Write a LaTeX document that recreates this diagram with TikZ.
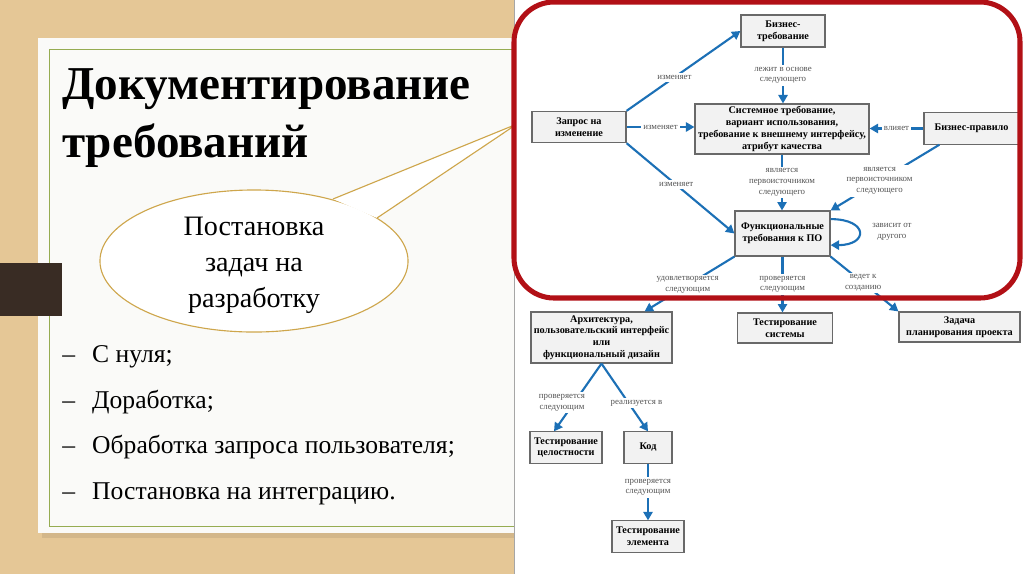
\documentclass[tikz,border=0pt]{standalone}
\usepackage{fontspec}
\setmainfont{Liberation Serif}
\usetikzlibrary{arrows.meta,positioning}

\definecolor{woodtan}{RGB}{229,199,150}
\definecolor{paperwhite}{RGB}{250,250,248}
\definecolor{papergreen}{RGB}{150,172,82}
\definecolor{barbrown}{RGB}{57,44,36}
\definecolor{bubbleline}{RGB}{206,166,76}
\definecolor{framered}{RGB}{178,16,22}
\definecolor{flowblue}{RGB}{28,112,182}
\definecolor{boxfill}{RGB}{242,242,242}
\definecolor{boxline}{RGB}{105,105,105}
\definecolor{notegray}{RGB}{85,85,85}

\begin{document}
\begin{tikzpicture}[x=0.025cm, y=-0.025cm,
  box/.style={draw=boxline, fill=boxfill, line width=0.8pt, align=center,
    inner sep=1pt, font=\bfseries\fontsize{7.25}{8.4}\selectfont},
  flow/.style={draw=flowblue, line width=1.5pt, -{Triangle[length=6pt,width=6.5pt]}},
  note/.style={fill=white, text=notegray, align=center, inner sep=1.5pt,
    font=\fontsize{6.3}{7.6}\selectfont},
  heading/.style={anchor=base west, inner sep=0pt, font=\bfseries\fontsize{33.5}{38}\selectfont},
  item/.style={anchor=base west, inner sep=0pt, font=\fontsize{18.2}{20}\selectfont},
]
\useasboundingbox (0,0) rectangle (1024,574);

% BACKGROUND
\fill[woodtan] (0,0) rectangle (1024,574);
\fill[black, opacity=0.08] (42,44) rectangle (514,538);
\fill[paperwhite] (38,38) rectangle (514,533);
\draw[papergreen, line width=0.7pt] (49,49) rectangle (530,526);
\fill[barbrown] (0,263) rectangle (62,316);

% TITLE
\node[heading] (title1) at (62,99) {Документирование};
\node[heading] (title2) at (62,157) {требований};

% CALLOUT
\draw[bubbleline, fill=white, line width=0.8pt] (254,261) ellipse [x radius=3.85cm, y radius=1.775cm];
\fill[white] (333,199) -- (517,124) -- (377,218) -- cycle;
\draw[bubbleline, line width=0.8pt] (333,199) -- (517,124) -- (377,218);
\node[align=center, font=\fontsize{20}{25.5}\selectfont] (bubble) at (254,265)
  {Постановка\\задач на\\разработку};

% LIST
\node[item] (b1) at (62,362) {\makebox[21.3pt][l]{–}С нуля;};
\node[item] (b2) at (62,408) {\makebox[21.3pt][l]{–}Доработка;};
\node[item] (b3) at (62,453) {\makebox[21.3pt][l]{–}Обработка запроса пользователя;};
\node[item] (b4) at (62,499) {\makebox[21.3pt][l]{–}Постановка на интеграцию.};

% DIAGRAM PANEL
\fill[white] (514,0) rectangle (1024,574);
\draw[black!35, line width=0.4pt] (514,0) -- (514,574);

% BOXES
\node[box, minimum width=2.1cm, minimum height=0.8cm] (bt) at (783,31) {Бизнес-\\требование};
\node[box, minimum width=2.35cm, minimum height=0.78cm] (req) at (579,127) {Запрос на\\изменение};
\node[box, minimum width=4.35cm, minimum height=1.25cm] (sys) at (782,129)
  {Системное требование,\\вариант использования,\\требование к внешнему интерфейсу,\\атрибут качества};
\node[box, minimum width=2.375cm, minimum height=0.78cm] (rule) at (971.5,128.5) {Бизнес-правило};
\node[box, minimum width=2.375cm, minimum height=1.125cm] (func) at (782.5,233.5)
  {Функциональные\\требования к ПО};
\node[box, minimum width=3.525cm, minimum height=1.275cm] (arch) at (601.5,337.5)
  {Архитектура,\\пользовательский интерфейс\\или\\функциональный дизайн};
\node[box, minimum width=2.375cm, minimum height=0.75cm] (systest) at (785,328) {Тестирование\\системы};
\node[box, minimum width=3.025cm, minimum height=0.75cm] (task) at (959.5,327)
  {Задача\\планирования проекта};
\node[box, minimum width=1.8cm, minimum height=0.78cm] (integ) at (566,447.5) {Тестирование\\целостности};
\node[box, minimum width=1.2cm, minimum height=0.78cm] (code) at (648,447.5) {Код};
\node[box, minimum width=1.8cm, minimum height=0.78cm] (unit) at (648,536.5) {Тестирование\\элемента};

% ARROWS
\draw[flow] (req.north east) -- (bt.west) node[note, pos=0.42] {изменяет};
\draw[flow] (bt.south) -- (bt.south |- sys.north) node[note, midway] {лежит в основе\\следующего};
\draw[flow] (req.east) -- (req.east -| sys.west) node[note, midway] {изменяет};
\draw[flow] (rule.west) -- (rule.west -| sys.east) node[note, midway] {влияет};
\draw[flow] (req.south east) -- (func.west) node[note, pos=0.46] {изменяет};
\draw[flow] (sys.south) -- (sys.south |- func.north) node[note, midway] {является\\первоисточником\\следующего};
\draw[flow] ([xshift=0.4cm]rule.south west) -- (func.north east)
  node[note, pos=0.55] {является\\первоисточником\\следующего};
\draw[flow] ([yshift=0.36cm]func.east) .. controls +(38,0) and +(38,0) .. ([yshift=-0.29cm]func.east)
  node[note, pos=0.5, right=0.25cm] {зависит от\\другого};
\draw[flow] (func.south west) -- ([xshift=-0.7cm]arch.north east)
  node[note, pos=0.52] {удовлетворяется\\следующим};
\draw[flow] (func.south) -- (func.south |- systest.north) node[note, midway] {проверяется\\следующим};
\draw[flow] (func.south east) -- (task.north west) node[note, pos=0.48] {ведет к\\созданию};
\draw[flow] (arch.south) -- ([xshift=-0.3cm]integ.north)
  node[note, pos=0.58, xshift=-0.3cm] {проверяется\\следующим};
\draw[flow] (arch.south) -- (code.north) node[note, pos=0.58, xshift=0.2cm] {реализуется в};
\draw[flow] (code.south) -- (unit.north) node[note, pos=0.42] {проверяется\\следующим};

% FRAME
\draw[framered, line width=3.6pt, rounded corners=1cm] (514,2) rectangle (1020,298);
\end{tikzpicture}
\end{document}
